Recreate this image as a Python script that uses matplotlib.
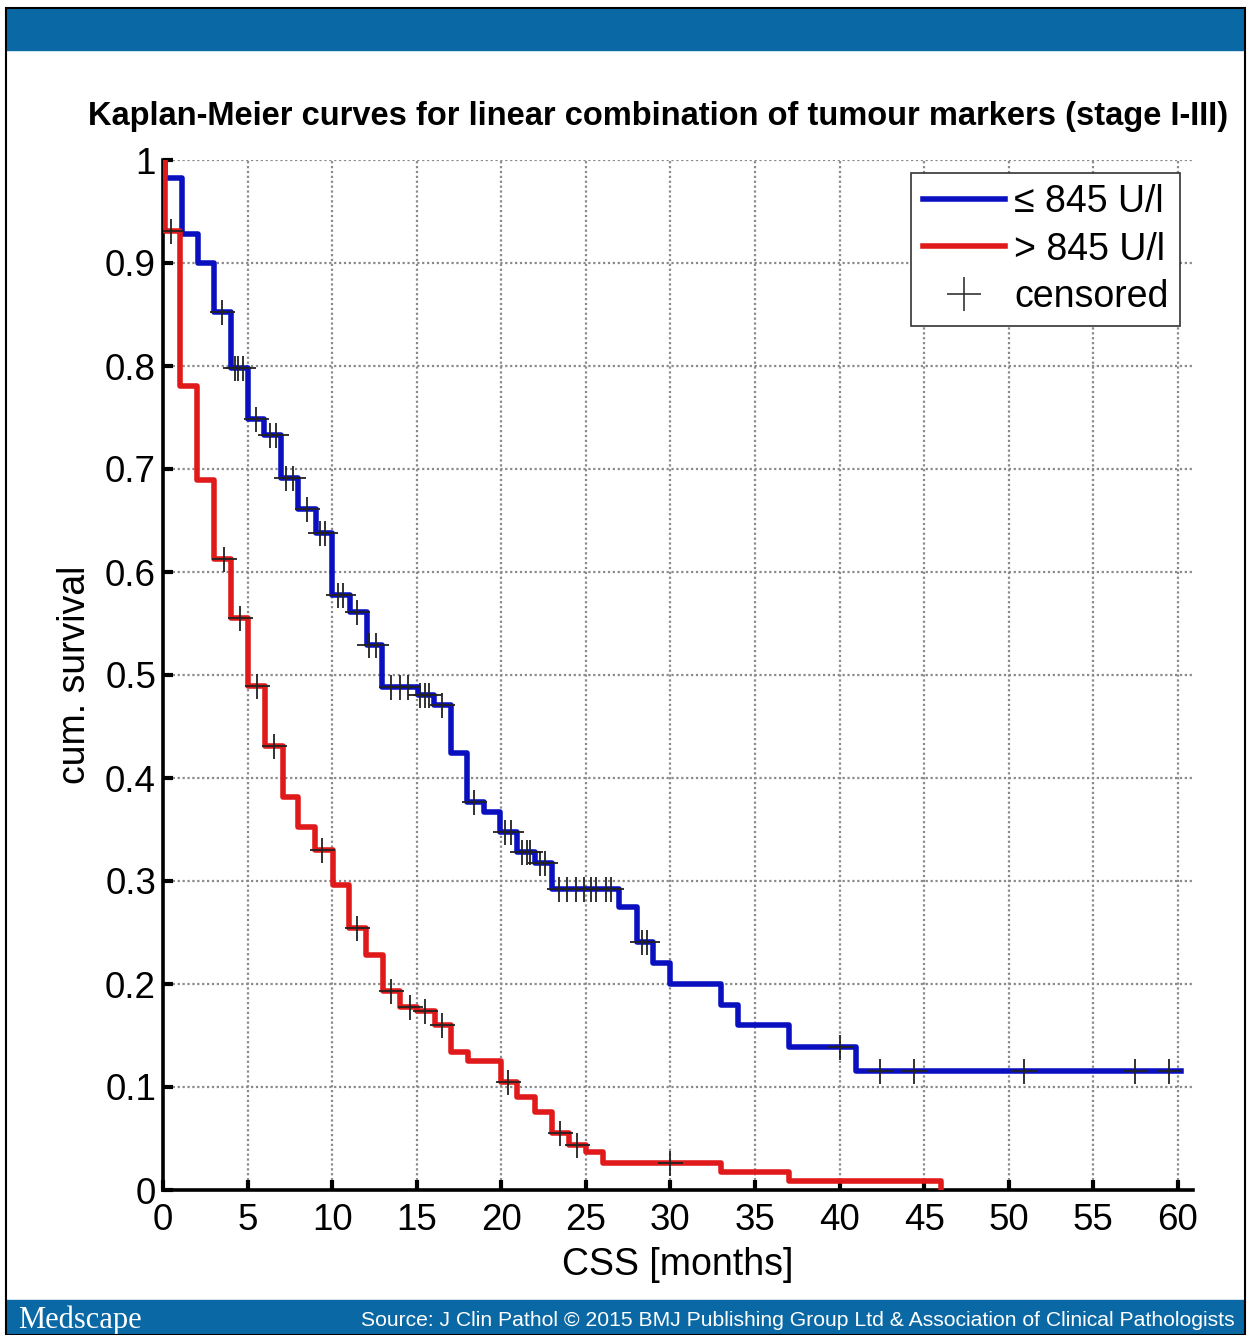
import numpy as np
import matplotlib
matplotlib.use("Agg")
import matplotlib.pyplot as plt
from matplotlib.lines import Line2D
from matplotlib.patches import Rectangle

plt.rcParams['font.family'] = ['Liberation Sans', 'DejaVu Sans']

# step curves: time of each drop, survival after it
blue_t = [0, 0.1, 1.1, 2.05, 3.0, 4.0, 5.0, 6.0, 7.0, 8.0, 9.05, 10.0, 11.05, 12.05,
          12.95, 15.1, 16.0, 17.05, 18.0, 18.95, 19.9, 20.95, 22.0, 23.0, 26.95, 28.0,
          28.95, 29.95, 33.0, 34.0, 37.0, 41.0]
blue_s = [1.0, 0.983, 0.928, 0.900, 0.852, 0.798, 0.749, 0.733, 0.691, 0.661, 0.638,
          0.578, 0.561, 0.529, 0.488, 0.481, 0.471, 0.424, 0.377, 0.367, 0.348, 0.328,
          0.317, 0.292, 0.275, 0.241, 0.220, 0.200, 0.180, 0.160, 0.139, 0.116]
blue_end = 60.2
blue_cens = [3.5, 4.26, 4.45, 4.73, 5.5, 6.3, 6.7, 7.3, 7.7, 8.5, 9.28, 9.57, 10.35,
             10.65, 11.5, 12.2, 12.6, 13.5, 14.0, 14.5, 15.2, 15.5, 15.7, 16.5, 18.4,
             20.2, 20.6, 21.2, 21.5, 21.7, 22.3, 22.6, 23.4, 23.9, 24.4, 24.9, 25.3,
             25.6, 26.2, 26.5, 28.3, 28.6, 40.0, 42.4, 44.4, 50.9, 57.5, 59.5]

red_t = [0, 0.1, 1.0, 2.0, 3.0, 4.0, 5.0, 6.05, 7.1, 8.0, 9.0, 10.05, 11.0, 12.0, 13.0,
         14.0, 15.0, 16.1, 17.05, 18.05, 20.0, 20.95, 22.0, 23.0, 24.0, 25.0, 26.0,
         33.0, 37.0, 46.0]
red_s = [1.0, 0.931, 0.781, 0.689, 0.613, 0.555, 0.489, 0.431, 0.382, 0.352, 0.330,
         0.296, 0.254, 0.228, 0.193, 0.178, 0.174, 0.160, 0.134, 0.125, 0.105, 0.090,
         0.076, 0.055, 0.044, 0.037, 0.026, 0.017, 0.009, 0.0]
red_cens = [0.46, 3.6, 4.57, 5.55, 6.57, 9.4, 11.5, 13.5, 14.6, 15.5, 16.5, 20.4,
            23.5, 24.5, 30.0]

labels = ['\u2264 845 U/l', '> 845 U/l', 'censored']
xticks = np.arange(0, 61, 5)
yticks = np.round(np.arange(0, 1.01, 0.1), 1)
ytick_labels = ['0'] + ['%.1f' % v for v in yticks[1:-1]] + ['1']

BLUE = '#0a10c0'
RED = '#e01a1a'
BAND = '#0a68a5'


def surv_at(times, surv, t):
    idx = np.searchsorted(times, t, side='right') - 1
    return np.asarray(surv)[idx]


fig = plt.figure(figsize=(12.5, 13.35), dpi=100)
W, H = 1250, 1335

# page decoration
fig.patches.append(Rectangle((6 / W, 1 - 50 / H), 1239 / W, 42 / H,
                             transform=fig.transFigure, color=BAND, zorder=0))
fig.patches.append(Rectangle((6 / W, 0), 1239 / W, 35 / H,
                             transform=fig.transFigure, color=BAND, zorder=0))

ax = fig.add_axes([163 / W, 1 - 1190 / H, 1030 / W, 1030 / H])
ax.set_xlim(0, 60.9)
ax.set_ylim(0, 1)
ax.set_axisbelow(True)

ax.plot(blue_t + [blue_end], blue_s + [blue_s[-1]], drawstyle='steps-post',
        color=BLUE, lw=4, zorder=3)
ax.plot(red_t, red_s, drawstyle='steps-post', color=RED, lw=4, zorder=3)

ax.plot(blue_cens, surv_at(blue_t, blue_s, blue_cens), ls='none', marker='+',
        ms=18, mew=1.3, color='#222222', zorder=4)
ax.plot(red_cens, surv_at(red_t, red_s, red_cens), ls='none', marker='+',
        ms=18, mew=1.3, color='#222222', zorder=4)

ax.set_xticks(xticks)
ax.set_yticks(yticks)
ax.set_yticklabels(ytick_labels)
ax.grid(True, color='#8a8a8a', linestyle=(0, (1, 1.2)), linewidth=1.6)
for side in ('top', 'right'):
    ax.spines[side].set_visible(False)
for side in ('left', 'bottom'):
    ax.spines[side].set_linewidth(2.6)
ax.tick_params(direction='in', length=7, width=3, labelsize=26.5, pad=5)
ax.tick_params(axis='x', pad=9)

ax.set_xlabel('CSS [months]', fontsize=27, labelpad=7)
ax.set_ylabel('cum. survival', fontsize=27, labelpad=9)

handles = [Line2D([], [], color=BLUE, lw=4),
           Line2D([], [], color=RED, lw=4),
           Line2D([], [], ls='none', marker='+', ms=24, mew=1.2, color='#333333')]
leg = ax.legend(handles, labels, loc='upper right',
                bbox_to_anchor=(1180 / W, 1 - 173 / H), bbox_transform=fig.transFigure,
                fontsize=27, frameon=True, fancybox=False, edgecolor='#333333',
                framealpha=1, handlelength=2.2, handletextpad=0.25, borderpad=0.3,
                labelspacing=0.3, borderaxespad=0)
leg.get_frame().set_linewidth(1.2)

fig.text(88 / W, 1 - 116 / H,
         'Kaplan-Meier curves for linear combination of tumour markers (stage I-III)',
         ha='left', va='center', fontsize=23.5, fontweight='bold')
# right page margin and frame drawn over everything
fig.patches.append(Rectangle((1245 / W, 0), 5 / W, 1, transform=fig.transFigure,
                             color='white', zorder=10))
fig.patches.append(Rectangle((6 / W, 0), 1239 / W, 1 - 8 / H, transform=fig.transFigure,
                             fill=False, edgecolor='black', lw=1.5, zorder=11))

fig.text(18 / W, 1 - 1320 / H, 'Medscape', ha='left', va='center', fontsize=22,
         color='white', family=['Liberation Serif', 'DejaVu Serif'])
fig.text(1235 / W, 1 - 1321 / H,
         'Source: J Clin Pathol \u00a9 2015 BMJ Publishing Group Ltd & Association of Clinical Pathologists',
         ha='right', va='center', fontsize=15.2, color='white')

fig.savefig('out.png', dpi=100)
